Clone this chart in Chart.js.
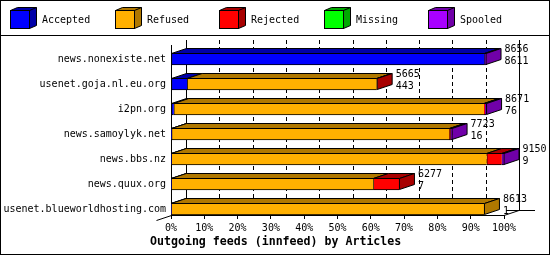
<!DOCTYPE html>
<html>
<head>
<meta charset="utf-8">
<script src="https://cdn.jsdelivr.net/npm/chart.js@4"></script>
<style>
  html, body { margin: 0; padding: 0; background: #fff; }
  canvas { display: block; }
</style>
</head>
<body>
<canvas id="c" width="550" height="255"></canvas>
<script>
// ---- data ----
const hosts = [
  'news.nonexiste.net',
  'usenet.goja.nl.eu.org',
  'i2pn.org',
  'news.samoylyk.net',
  'news.bbs.nz',
  'news.quux.org',
  'usenet.blueworldhosting.com'
];
const seriesNames = ['Accepted', 'Refused', 'Rejected', 'Missing', 'Spooled'];
const accepted = [8611, 443, 76, 16, 9, 7, 1];
const refused  = [0, 5212, 8525, 7632, 8666, 5554, 8612];
const rejected = [0, 10, 20, 30, 411, 716, 0];
const missing  = [0, 0, 0, 0, 0, 0, 0];
const spooled  = [45, 0, 50, 45, 64, 0, 0];
const offered  = [8656, 5665, 8671, 7723, 9150, 6277, 8613];
const xTickValues = [0, 10, 20, 30, 40, 50, 60, 70, 80, 90, 100];
const titleText = 'Outgoing feeds (innfeed) by Articles';

// ---- styles ----
const frontColors = ['#0000FF', '#FFB000', '#FF0000', '#00FF00', '#A800FF'];
const darkColors  = ['#0000A8', '#B07800', '#A80000', '#00A800', '#7000A8'];
const FONT = 'DejaVu Sans Mono';
const DX = 15, DY = 5;

const seriesData = [accepted, refused, rejected, missing, spooled];
const scaleMax = Math.max(...offered);
const pct = v => v / scaleMax * 100;

const threeD = {
  id: 'threeD',
  beforeDatasetsDraw(chart) {
    const ctx = chart.ctx, xs = chart.scales.x, a = chart.chartArea;
    ctx.save();
    ctx.strokeStyle = '#000';
    ctx.lineWidth = 1;
    const yTop = a.top - DY, yBot = a.bottom - DY;
    xTickValues.forEach(v => {
      const x = Math.round(xs.getPixelForValue(v) + DX) + 0.5;
      ctx.setLineDash((v === 0 || v === 100) ? [] : [4, 3]);
      ctx.beginPath();
      ctx.moveTo(x, yTop);
      ctx.lineTo(x, yBot);
      ctx.stroke();
    });
    ctx.setLineDash([]);
    // floor edges
    const xr = xs.getPixelForValue(100);
    ctx.beginPath();
    ctx.moveTo(xr, a.bottom + 0.5);
    ctx.lineTo(xr + DX, a.bottom - DY + 0.5);
    ctx.moveTo(xr + 2, a.bottom - DY + 0.5);
    ctx.lineTo(xr + DX + 16, a.bottom - DY + 0.5);
    ctx.moveTo(a.left + 0.5, a.bottom + 0.5);
    ctx.lineTo(a.left - DX + 0.5, a.bottom + DY + 0.5);
    ctx.stroke();
    ctx.restore();
  },
  afterDatasetsDraw(chart) {
    const ctx = chart.ctx, xs = chart.scales.x;
    const metas = chart.getSortedVisibleDatasetMetas();
    ctx.save();
    ctx.lineWidth = 1;
    ctx.strokeStyle = '#000';
    hosts.forEach((h, k) => {
      let last = null;
      metas.forEach(m => {
        const i = m.index;
        if (!(seriesData[i][k] > 0)) return;
        const el = m.data[k];
        const p = el.getProps(['x', 'y', 'base', 'height'], true);
        const top = Math.round(p.y - p.height / 2);
        const bottom = top + p.height;
        const xl = p.base, xr = p.x;
        ctx.fillStyle = darkColors[i];
        ctx.beginPath();
        ctx.moveTo(xl, top + 0.5);
        ctx.lineTo(xr, top + 0.5);
        ctx.lineTo(xr + DX, top - DY + 0.5);
        ctx.lineTo(xl + DX, top - DY + 0.5);
        ctx.closePath();
        ctx.fill();
        ctx.stroke();
        last = { i, xr, top, bottom };
      });
      if (last) {
        const { i, xr, top, bottom } = last;
        ctx.fillStyle = darkColors[i];
        ctx.beginPath();
        ctx.moveTo(xr, top + 0.5);
        ctx.lineTo(xr + DX, top - DY + 0.5);
        ctx.lineTo(xr + DX, bottom - DY - 0.5);
        ctx.lineTo(xr, bottom - 0.5);
        ctx.closePath();
        ctx.fill();
        ctx.stroke();
      }
      // value labels
      const cy = chart.scales.y.getPixelForValue(k);
      const tx = xs.getPixelForValue(pct(offered[k])) + DX + 3.5;
      ctx.fillStyle = '#000';
      ctx.font = '10px "' + FONT + '"';
      ctx.textAlign = 'left';
      ctx.textBaseline = 'middle';
      ctx.fillText(String(offered[k]), tx, cy - 9.5);
      ctx.fillText(String(accepted[k]), tx, cy + 2);
    });
    ctx.restore();
  },
  afterDraw(chart) {
    const ctx = chart.ctx;
    ctx.save();
    ctx.strokeStyle = '#000';
    ctx.lineWidth = 1;
    // frame and legend separator
    ctx.strokeRect(0.5, 0.5, 549, 254);
    ctx.beginPath();
    ctx.moveTo(0, 35.5);
    ctx.lineTo(550, 35.5);
    ctx.stroke();
    // legend
    ctx.font = '10px "' + FONT + '"';
    ctx.textAlign = 'left';
    ctx.textBaseline = 'middle';
    chart.data.datasets.forEach((ds, i) => {
      const x0 = Math.round(10 + 104.6 * i) + 0.5;
      const y0 = 10.5, w = 19, hgt = 18, dx = 7, dy = 3;
      ctx.fillStyle = darkColors[i];
      ctx.beginPath();
      ctx.moveTo(x0, y0);
      ctx.lineTo(x0 + dx, y0 - dy);
      ctx.lineTo(x0 + w + dx, y0 - dy);
      ctx.lineTo(x0 + w + dx, y0 + hgt - dy);
      ctx.lineTo(x0 + w, y0 + hgt);
      ctx.lineTo(x0 + w, y0);
      ctx.closePath();
      ctx.fill();
      ctx.stroke();
      ctx.beginPath();
      ctx.moveTo(x0 + w, y0);
      ctx.lineTo(x0 + w + dx, y0 - dy);
      ctx.stroke();
      ctx.fillStyle = ds.backgroundColor;
      ctx.fillRect(x0, y0, w, hgt);
      ctx.strokeRect(x0, y0, w, hgt);
      ctx.fillStyle = '#000';
      ctx.fillText(ds.label, Math.round(42 + 104.6 * i), 20);
    });
    // axis title
    ctx.font = 'bold 11.6px "' + FONT + '"';
    ctx.textBaseline = 'alphabetic';
    ctx.fillText(titleText, 150, 245);
    ctx.restore();
  }
};

const datasets = seriesNames.map((name, i) => ({
  label: name,
  data: seriesData[i].map((v, k) => ({ x: pct(v), y: k })),
  backgroundColor: frontColors[i],
  borderColor: '#000',
  borderWidth: { top: 1, bottom: 1, left: 1, right: 0 },
  borderSkipped: false,
  barThickness: 12
}));

new Chart(document.getElementById('c'), {
  type: 'bar',
  data: { datasets },
  options: {
    indexAxis: 'y',
    responsive: false,
    animation: false,
    devicePixelRatio: 1,
    layout: { padding: { top: 45, right: 46, left: 0, bottom: 0 } },
    scales: {
      x: {
        type: 'linear',
        stacked: true,
        min: 0,
        max: 100,
        offset: false,
        afterBuildTicks: s => { s.ticks = xTickValues.map(v => ({ value: v })); },
        afterFit: s => { s.height = 40; },
        ticks: {
          callback: v => v + '%',
          color: '#000',
          font: { family: FONT, size: 10 },
          padding: 3,
          maxRotation: 0,
          autoSkip: false
        },
        grid: { drawOnChartArea: false, drawTicks: true, tickLength: 4, color: '#000' },
        border: { display: true, color: '#000' }
      },
      y: {
        type: 'linear',
        stacked: true,
        reverse: true,
        offset: false,
        min: -0.56,
        max: 6.24,
        afterBuildTicks: s => { s.ticks = hosts.map((h, i) => ({ value: i })); },
        afterFit: s => { s.width = 171; },
        ticks: {
          callback: v => hosts[v],
          color: '#000',
          font: { family: FONT, size: 10 },
          padding: 5,
          autoSkip: false
        },
        grid: { drawOnChartArea: false, drawTicks: false, offset: false },
        border: { display: true, color: '#000' }
      }
    },
    plugins: { legend: { display: false }, tooltip: { enabled: false }, title: { display: false } }
  },
  plugins: [threeD]
});
</script>
</body>
</html>
